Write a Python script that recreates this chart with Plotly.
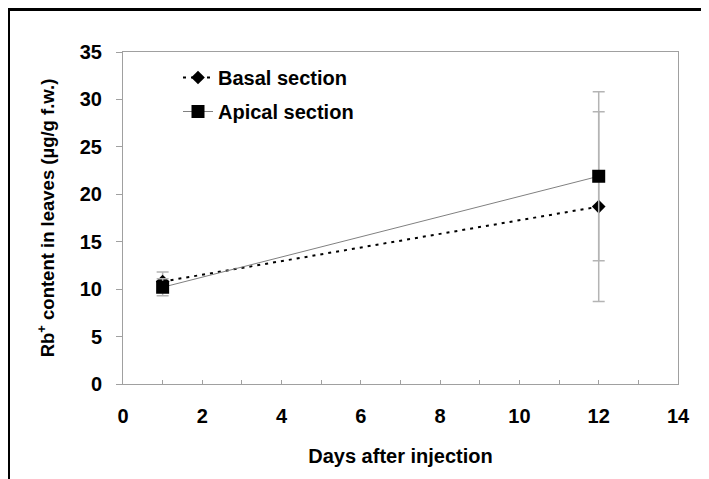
import plotly.graph_objects as go

days = [1, 12]
basal = [10.8, 18.7]
basal_err = [1.0, 10.0]
apical = [10.2, 21.9]
apical_err = [0.9, 8.9]

x_ticks = [0, 2, 4, 6, 8, 10, 12, 14]
y_ticks = [0, 5, 10, 15, 20, 25, 30, 35]

FONT = "Liberation Sans, Arial, sans-serif"
FS = 20
GRAY = "#a0a0a0"

fig = go.Figure()
fig.add_trace(go.Scatter(
    x=days, y=basal, name="Basal section", legendgroup="b",
    mode="lines+markers",
    line=dict(color="black", width=2, dash="3px,5px"),
    marker=dict(symbol="diamond", size=10.5, color="black"),
    error_y=dict(type="data", array=basal_err, color="#b4b4b4", thickness=1.5, width=6),
))
fig.add_trace(go.Scatter(
    x=days, y=apical, name="Apical section", legendgroup="a",
    mode="lines+markers",
    line=dict(color="#808080", width=1),
    marker=dict(symbol="square", size=13, color="black"),
    error_y=dict(type="data", array=apical_err, color="#b4b4b4", thickness=1.5, width=6),
))

# page has an 8px body margin; work in screen coordinates
OFF = 8
W, H = 709 - OFF, 479 - OFF
SL, SR, ST, SB = 123, 678, 52, 384  # plot area in screen px
L, T = SL - OFF, ST - OFF
R, B = W - (SR - OFF), H - (SB - OFF)
pw, ph = W - L - R, H - T - B

def px(sx):
    return (sx - OFF - L) / pw

def py(sy):
    return (H - B - (sy - OFF)) / ph

fig.add_shape(type="rect", xref="paper", yref="paper",
              x0=px(8.5), x1=px(740), y0=py(9.5), y1=py(540),
              line=dict(color="black", width=3))

fig.update_layout(
    width=W, height=H,
    margin=dict(l=L, r=R, t=T, b=B, autoexpand=False),
    paper_bgcolor="white", plot_bgcolor="white",
    font=dict(family=FONT, size=FS, color="black", weight="bold"),
    showlegend=True,
    legend=dict(x=px(178), y=py(58), xanchor="left", yanchor="top",
                bgcolor="rgba(0,0,0,0)", tracegroupgap=5,
                font=dict(family=FONT, size=FS, weight="bold")),
    xaxis=dict(range=[0, 14], tickvals=x_ticks, ticks="inside", ticklen=4,
               tickcolor=GRAY, showline=True, linecolor=GRAY, linewidth=1,
               mirror=True, showgrid=False, zeroline=False,
               minor=dict(dtick=1, ticks="inside", ticklen=4, tickcolor=GRAY, showgrid=False),
               ticklabelstandoff=14,
               title=dict(text="Days after injection", standoff=22,
                          font=dict(family=FONT, size=FS, weight="bold"))),
    yaxis=dict(range=[0, 35], tickvals=y_ticks, ticks="outside", ticklen=6,
               tickcolor=GRAY, showline=True, linecolor=GRAY, linewidth=1,
               mirror=True, showgrid=False, zeroline=False,
               ticklabelstandoff=10,
               title=dict(text="Rb<sup>+</sup> content in leaves (µg/g f.w.)", standoff=20,
                          font=dict(family=FONT, size=18.5, weight="bold"))),
)

fig.write_html("out.html")
